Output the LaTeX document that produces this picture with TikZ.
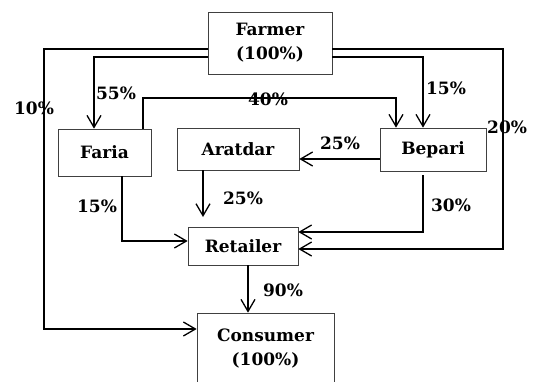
\documentclass[tikz,border=0pt]{standalone}
\usepackage{fontspec}
\setmainfont{DejaVu Serif}
\usetikzlibrary{arrows.meta}
\begin{document}
\begin{tikzpicture}[x=1pt,y=-1pt,
  box/.style={draw=black!75,line width=0.7pt,inner sep=0pt,font=\fontsize{17}{24}\selectfont\bfseries,align=center},
  lab/.style={font=\fontsize{17}{24}\selectfont\bfseries,inner sep=0pt},
  flow/.style={line width=1.3pt,-{Straight Barb[length=12pt,width=14pt,line width=1.3pt]}},
  plain/.style={line width=1.3pt}]
\path[use as bounding box] (0,0) rectangle (537,382);
\begin{scope}
\clip (0,0) rectangle (537,382);
\node[box,minimum width=124pt,minimum height=62pt] (farmer) at (270,43) {Farmer\\(100\%)};
\node[box,minimum width=93pt,minimum height=47pt] (faria) at (104.5,152.5) {Faria};
\node[box,minimum width=122pt,minimum height=42pt] (aratdar) at (238,149) {Aratdar};
\node[box,minimum width=106pt,minimum height=43pt] (bepari) at (433,149.5) {Bepari};
\node[box,minimum width=110pt,minimum height=38pt] (retailer) at (243,246) {Retailer};
\node[box,minimum width=137pt,minimum height=80pt] (consumer) at (265.5,353) {};
\node[lab,align=center] (constext) at (265.5,349) {Consumer\\(100\%)};

\coordinate (aratEnd) at (203,217);
% farmer outer left -> consumer
\draw[flow] (farmer.west |- 0,49) -| (44,329) -- (consumer.west |- 0,329);
% farmer -> faria
\draw[flow] (farmer.west |- 0,57) -| (faria.north -| 94,0);
% farmer -> bepari
\draw[flow] (farmer.east |- 0,57) -| (bepari.north -| 423,0);
% farmer outer right -> retailer
\draw[flow] (farmer.east |- 0,49) -| (503,249) -- (retailer.east |- 0,249);
% faria -> bepari 40%
\draw[flow] (faria.north -| 143,0) |- (396,98) -- (bepari.north -| 396,0);
% bepari -> aratdar
\draw[flow] (bepari.west |- 0,159) -- (aratdar.east |- 0,159);
% aratdar -> retailer (short)
\draw[flow] (aratdar.south -| aratEnd) -- (aratEnd);
% faria -> retailer
\draw[flow] (faria.south -| 122,0) |- (retailer.west |- 0,241);
% bepari -> retailer
\draw[flow] (423,175) |- (retailer.east |- 0,232);
% retailer -> consumer
\draw[flow] (retailer.south -| 248,0) -- (consumer.north -| 248,0);

\node[lab] (l10) at (34,108) {10\%};
\node[lab] (l55) at (116,93) {55\%};
\node[lab] (l40) at (268,99) {40\%};
\node[lab] (l15a) at (446,88) {15\%};
\node[lab,anchor=west] (l20) at (487,127) {20\%};
\node[lab] (l25a) at (340,143) {25\%};
\node[lab] (l25b) at (243,198) {25\%};
\node[lab] (l15b) at (97,206) {15\%};
\node[lab] (l30) at (451,205) {30\%};
\node[lab] (l90) at (283,290) {90\%};
\end{scope}
\end{tikzpicture}
\end{document}
